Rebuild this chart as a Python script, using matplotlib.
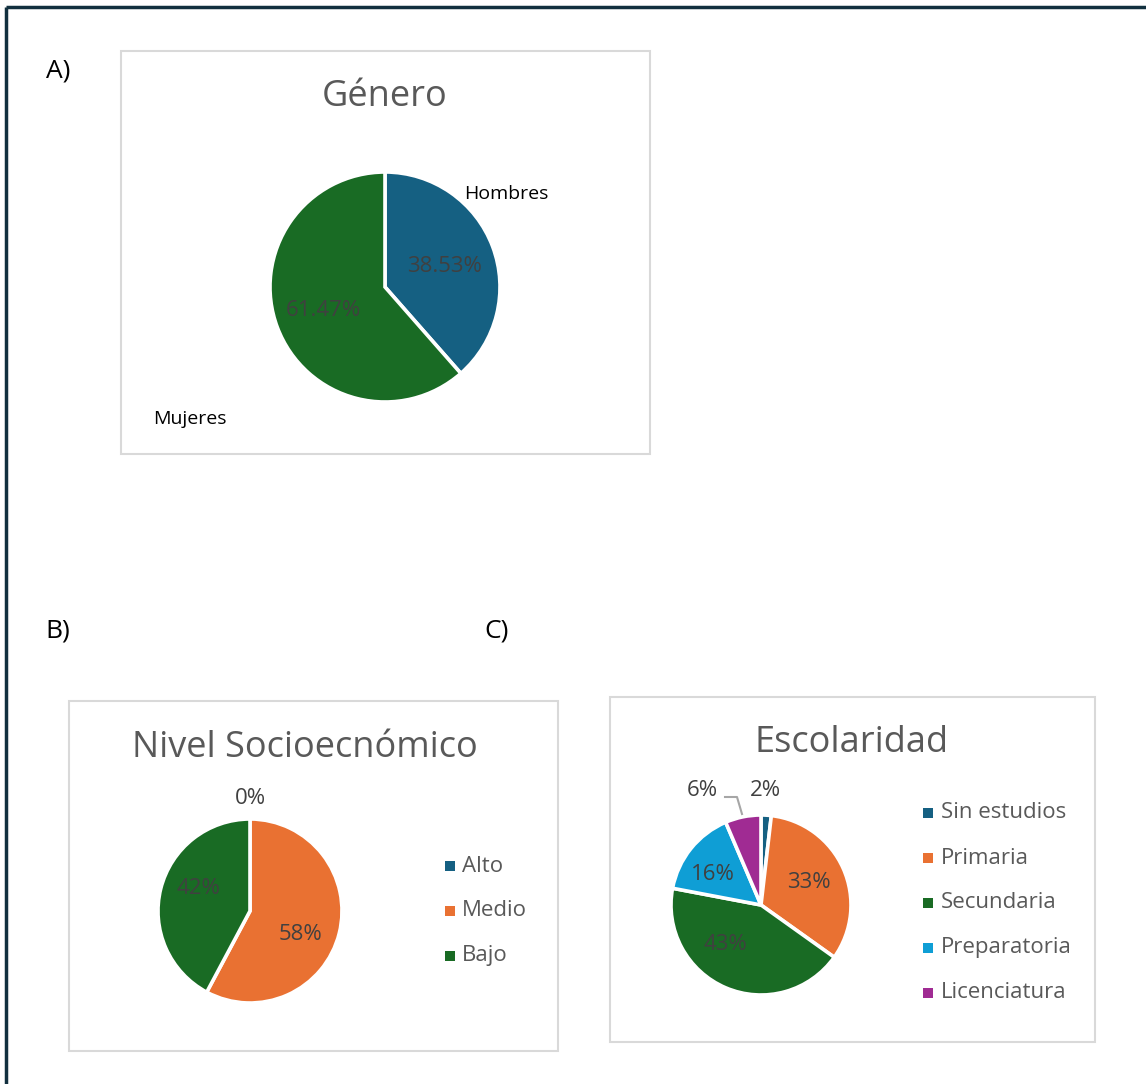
# three pie charts (genero, nivel socioeconomico, escolaridad)

import matplotlib.pyplot as plt
from matplotlib.patches import Rectangle

plt.rcParams['font.family'] = ['Open Sans', 'DejaVu Sans']

# data (counts, n = 109)
genero_labels = ['Hombres', 'Mujeres']
genero_counts = [42, 67]
genero_colors = ['#156082', '#196B24']

nivel_labels = ['Alto', 'Medio', 'Bajo']
nivel_counts = [0, 63, 46]
nivel_colors = ['#156082', '#E97132', '#196B24']

esc_labels = ['Sin estudios', 'Primaria', 'Secundaria', 'Preparatoria', 'Licenciatura']
esc_counts = [2, 36, 47, 17, 7]
esc_colors = ['#156082', '#E97132', '#196B24', '#0F9ED5', '#A02B93']

W, H = 1146, 1084
fig = plt.figure(figsize=(W / 100, H / 100), dpi=100)
ax = fig.add_axes([0, 0, 1, 1])


def Y(y):
    # pixel row -> data y
    return H - y


label_col = '#404040'
title_col = '#595959'
box_col = '#D9D9D9'

# outer frame (top and left only)
ax.plot([5.5, W], [Y(7), Y(7)], color='#12303F', lw=2.5, solid_capstyle='butt')
ax.plot([5.5, 5.5], [Y(7), 0], color='#12303F', lw=2.5, solid_capstyle='butt')

# chart boxes
for x0, y0, x1, y1 in [(121, 51, 650, 454), (69, 701, 558, 1051), (610, 697, 1095, 1042)]:
    ax.add_patch(Rectangle((x0, Y(y1)), x1 - x0, y1 - y0, fill=False, ec=box_col, lw=1.5))

# panel letters
ax.text(58, Y(71), 'A)', fontsize=19, ha='center', va='center', color='black')
ax.text(58, Y(631), 'B)', fontsize=19, ha='center', va='center', color='black')
ax.text(497, Y(631), 'C)', fontsize=19, ha='center', va='center', color='black')

wedge_kw = dict(edgecolor='white', linewidth=2.6)


def pct_strings(counts, fmt):
    tot = sum(counts)
    return [fmt % (c / tot * 100) for c in counts]


# ---- A) Genero
ax.pie(genero_counts, colors=genero_colors, startangle=90, counterclock=False,
       center=(385, Y(287)), radius=115, wedgeprops=wedge_kw, frame=True)
ax.text(385, Y(97), 'Género', fontsize=26, color=title_col, ha='center', va='center')
for s, (px, py) in zip(pct_strings(genero_counts, '%.2f%%'), [(445, 266), (323, 311)]):
    ax.text(px, Y(py), s, fontsize=16, color=label_col, ha='center', va='center')
for s, (px, py) in zip(genero_labels, [(506, 194), (190, 419)]):
    ax.text(px, Y(py), s, fontsize=14, color='black', ha='center', va='center')

# ---- B) Nivel socioeconomico
ax.pie(nivel_counts, colors=nivel_colors, startangle=90, counterclock=False,
       center=(250, Y(911)), radius=92, wedgeprops=wedge_kw, frame=True)
ax.text(305, Y(748), 'Nivel Socioecnómico', fontsize=26, color=title_col, ha='center', va='center')
for s, (px, py) in zip(pct_strings(nivel_counts, '%.0f%%'), [(250, 798), (300, 934), (198, 889)]):
    ax.text(px, Y(py), s, fontsize=16, color=label_col, ha='center', va='center')
for i, (lab, col) in enumerate(zip(nivel_labels, nivel_colors)):
    yy = Y(866 + 45 * i)
    ax.scatter(450, yy, marker='s', s=60, color=col, linewidths=0)
    ax.text(462, yy, lab, fontsize=16, color=title_col, ha='left', va='center')

# ---- C) Escolaridad
ax.pie(esc_counts, colors=esc_colors, startangle=90, counterclock=False,
       center=(761, Y(905)), radius=90, wedgeprops=wedge_kw, frame=True)
ax.text(852, Y(743), 'Escolaridad', fontsize=26, color=title_col, ha='center', va='center')
esc_pos = [(765, 791), (809, 883), (725, 944), (713, 874), (702, 791)]
for s, (px, py) in zip(pct_strings(esc_counts, '%.0f%%'), esc_pos):
    ax.text(px, Y(py), s, fontsize=16, color=label_col, ha='center', va='center')
# leader line for the 6% label
ax.plot([725, 737, 742], [Y(797), Y(797), Y(814)], color='#A6A6A6', lw=1.5)
for i, (lab, col) in enumerate(zip(esc_labels, esc_colors)):
    yy = Y(813 + 45 * i)
    ax.scatter(928, yy, marker='s', s=60, color=col, linewidths=0)
    ax.text(941, yy, lab, fontsize=16, color=title_col, ha='left', va='center')

ax.set_xlim(0, W)
ax.set_ylim(0, H)
ax.set_aspect('auto')
ax.axis('off')

plt.savefig('out.png', dpi=100)
